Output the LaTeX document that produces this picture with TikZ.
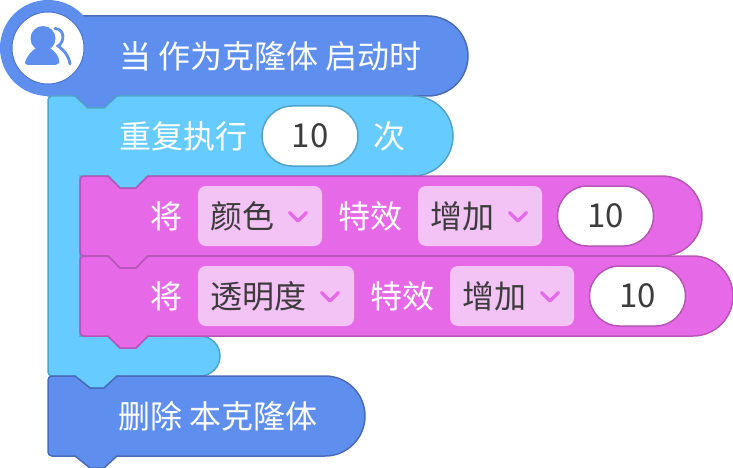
\documentclass[tikz,border=0pt]{standalone}
\usepackage{fontspec}
\usepackage{xcolor}
\setmainfont{Noto Sans CJK SC}
\definecolor{hatblue}{HTML}{5F8FEE}
\definecolor{hatline}{HTML}{4A6CB8}
\definecolor{loopcyan}{HTML}{66CCFF}
\definecolor{loopline}{HTML}{50A3CC}
\definecolor{effectpink}{HTML}{E66AE8}
\definecolor{effectline}{HTML}{B855B8}
\definecolor{droppink}{HTML}{F4C3F5}
\definecolor{fieldtext}{HTML}{3C3C3C}
\tikzset{
  hatblock/.style={draw=hatline,fill=hatblue,line width=1.5pt},
  loopblock/.style={draw=loopline,fill=loopcyan,line width=1.5pt},
  effectblock/.style={draw=effectline,fill=effectpink,line width=1.5pt},
  label/.style={text=white,anchor=west,inner sep=0pt,font=\fontsize{32}{38}\selectfont},
  droptext/.style={text=fieldtext,anchor=west,inner sep=0pt,font=\fontsize{32}{38}\selectfont},
  dropbox/.style={fill=droppink,rounded corners=8pt,minimum height=60pt,inner sep=0pt,outer sep=0pt,anchor=west},
  chevron/.style={draw=effectpink,line width=3.5pt,line cap=round,line join=round},
  numfield/.style={fill=white,rounded corners=30pt,minimum height=60pt,inner sep=0pt,outer sep=0pt,anchor=west,
    text=fieldtext,line width=1.5pt,font=\fontsize{33}{38}\selectfont},
}
\begin{document}
\begin{tikzpicture}[x=1pt,y=-1pt]
\useasboundingbox (0,0) rectangle (733,468);
% Hat block
\draw[hatblock] (48,16) -- (428,16) [rounded corners=40pt] -- (468,16) -- (468,96) [sharp corners] -- (117,96)
  -- (104,108) -- (88,108) -- (75,96) -- (48,96) -- cycle;
\node[circle,fill=hatblue,minimum size=96pt,inner sep=0pt] (hatdisc) at (48,48) {};
\node[circle,fill=white,draw=hatline!70!hatblue,line width=1pt,minimum size=72pt,inner sep=0pt] (iconface) at (48,48) {};
% Person icon
\fill[hatblue] (43,38.5) circle (12.5);
\fill[hatblue, rounded corners=3pt] (37,47) -- (30,53) -- (25,61) -- (25,65) -- (58,65) -- (60,61) -- (56,53) -- (49,47) -- cycle;
\draw[hatblue,line width=2.8pt,line cap=round] (55,28.5) .. controls (65,29) and (65,42) .. (58,46)
  .. controls (64,50) and (69,56) .. (70,64);
% Repeat block with its arm
\draw[loopblock] (52,96) -- (75,96) -- (88,108) -- (104,108) -- (117,96) -- (413,96)
  [rounded corners=40pt] -- (453,96) -- (453,176) [sharp corners] -- (148,176)
  -- (136,188) -- (120,188) -- (108,176) -- (80,176) -- (80,336) -- (108,336) -- (120,348) -- (136,348) -- (148,336)
  [rounded corners=20pt] -- (220,336) -- (220,376) [sharp corners] -- (117,376) -- (104,388) -- (90,388) -- (75,376)
  [rounded corners=4pt] -- (48,376) -- (48,96) [sharp corners] -- cycle;
% Effect blocks
\draw[effectblock] (84,176) -- (108,176) -- (120,188) -- (136,188) -- (148,176) -- (662,176)
  [rounded corners=40pt] -- (702,176) -- (702,256) [sharp corners] -- (148,256)
  -- (136,268) -- (120,268) -- (108,256) [rounded corners=4pt] -- (80,256) -- (80,176) [sharp corners] -- cycle;
\draw[effectblock] (84,256) -- (108,256) -- (120,268) -- (136,268) -- (148,256) -- (693,256)
  [rounded corners=40pt] -- (733,256) -- (733,336) [sharp corners] -- (148,336)
  -- (136,348) -- (120,348) -- (108,336) [rounded corners=4pt] -- (80,336) -- (80,256) [sharp corners] -- cycle;
% Delete block
\draw[hatblock] (52,376) -- (75,376) -- (90,388) -- (104,388) -- (117,376) -- (325,376)
  [rounded corners=40pt] -- (365,376) -- (365,456) [sharp corners] -- (117,456)
  -- (104,468) -- (90,468) -- (75,456) [rounded corners=4pt] -- (48,456) -- (48,376) [sharp corners] -- cycle;
% Labels
\node[label] (whenlabel) at (119,56) {当 作为克隆体 启动时};
\node[label] (repeatlabel) at (119,136) {重复执行};
\node[numfield,draw=loopline,minimum width=96pt] (repeatnum) at (262,136) {10};
\node[label] (timeslabel) at (373,136) {次};
\node[label] (deletelabel) at (118,416) {删除 本克隆体};
% First effect row
\node[label] (setone) at (150,216) {将};
\node[dropbox,minimum width=124pt] (colorbox) at (198,216) {};
\node[droptext] (colortext) at (210,216) {颜色};
\draw[chevron] (289.5,212.5) -- (298,221) -- (306.5,212.5);
\node[label] (effectone) at (338,216) {特效};
\node[dropbox,minimum width=124pt] (addboxone) at (418,216) {};
\node[droptext] (addtextone) at (430,216) {增加};
\draw[chevron] (509.5,212.5) -- (518,221) -- (526.5,212.5);
\node[numfield,draw=effectline,minimum width=96pt] (numone) at (557.5,216) {10};
% Second effect row
\node[label] (settwo) at (150,296) {将};
\node[dropbox,minimum width=156pt] (alphabox) at (198,296) {};
\node[droptext] (alphatext) at (210,296) {透明度};
\draw[chevron] (321.5,292.5) -- (330,301) -- (338.5,292.5);
\node[label] (effecttwo) at (370,296) {特效};
\node[dropbox,minimum width=124pt] (addboxtwo) at (450,296) {};
\node[droptext] (addtexttwo) at (462,296) {增加};
\draw[chevron] (541.5,292.5) -- (550,301) -- (558.5,292.5);
\node[numfield,draw=effectline,minimum width=96pt] (numtwo) at (589.5,296) {10};
\end{tikzpicture}
\end{document}
